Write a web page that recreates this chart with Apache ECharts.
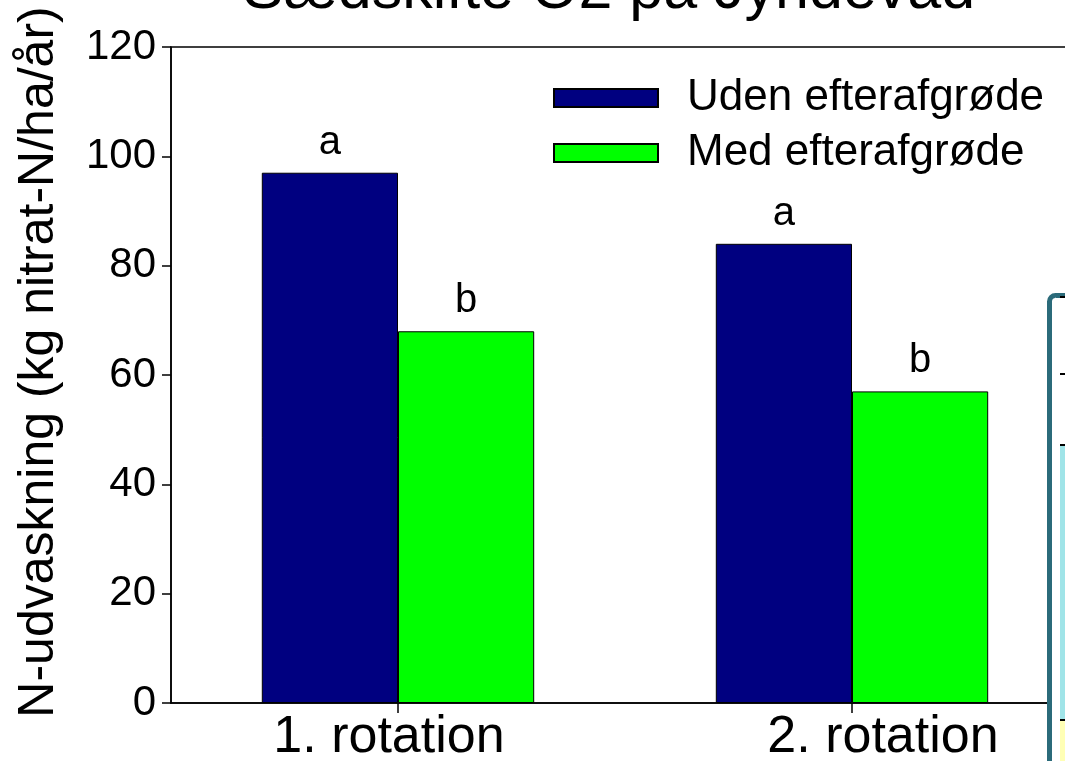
<!DOCTYPE html>
<html>
<head>
<meta charset="utf-8">
<script src="https://cdn.jsdelivr.net/npm/echarts@6/dist/echarts.min.js"></script>
<style>
html,body{margin:0;padding:0;background:#fff;}
#chart{width:1065px;height:761px;}
</style>
</head>
<body>
<div id="chart"></div>
<script>
var categories = ['1. rotation', '2. rotation'];
var seriesNames = ['Uden efterafgrøde', 'Med efterafgrøde'];
var udenValues = [97, 84];
var medValues = [68, 57];
var udenLetters = ['a', 'a'];
var medLetters = ['b', 'b'];
var yTicks = [0, 20, 40, 60, 80, 100, 120];
var titleText = 'Sædskifte O2 på Jyndevad';
var yTitle = 'N-udvaskning (kg nitrat-N/ha/år)';

var FONT = 'Liberation Sans, Arial, sans-serif';
var chart = echarts.init(document.getElementById('chart'), null, {renderer: 'canvas'});

function barLabel(letters) {
  return {
    show: true,
    position: 'top',
    distance: 10,
    fontFamily: FONT,
    fontSize: 40,
    color: '#000',
    formatter: function (p) { return letters[p.dataIndex]; }
  };
}

var xLabelStyle = {fontFamily: FONT, fontSize: 52, color: '#000'};

var option = {
  backgroundColor: '#fff',
  animation: false,
  grid: {
    left: 171, top: 47, bottom: 58, width: 908,
    outerBoundsMode: 'none', containLabel: false,
    show: true, borderColor: '#000', borderWidth: 1.5, backgroundColor: 'transparent'
  },
  legend: {
    orient: 'vertical',
    left: 553, top: 76, padding: 0,
    itemWidth: 104, itemHeight: 18,
    itemGap: 11,
    icon: 'rect',
    textStyle: {fontFamily: FONT, fontSize: 44, color: '#000', padding: [0, 0, 0, 24]},
    data: seriesNames
  },
  xAxis: {
    type: 'category',
    data: categories,
    axisLine: {lineStyle: {color: '#000', width: 1.5}},
    axisTick: {show: true, alignWithLabel: true, length: 10, lineStyle: {color: '#000', width: 1.5}},
    axisLabel: {
      fontFamily: FONT, fontSize: 52, color: '#000', margin: 9,
      formatter: function (value, index) { return '{l' + index + '|' + value + '}'; },
      rich: {
        l0: Object.assign({padding: [0, 18, 0, 0]}, xLabelStyle),
        l1: Object.assign({padding: [0, 0, 0, 62]}, xLabelStyle)
      }
    }
  },
  yAxis: {
    type: 'value',
    min: yTicks[0], max: yTicks[yTicks.length - 1], interval: yTicks[1] - yTicks[0],
    splitLine: {show: false},
    axisLine: {show: true, lineStyle: {color: '#000', width: 1.5}},
    axisTick: {show: true, length: 9, lineStyle: {color: '#000', width: 1.5}},
    axisLabel: {fontFamily: FONT, fontSize: 42, color: '#000', margin: 15}
  },
  series: [
    {
      name: seriesNames[0], type: 'bar', data: udenValues,
      barGap: '0%', barCategoryGap: '40%',
      itemStyle: {color: '#000080', borderColor: '#000', borderWidth: 1},
      label: barLabel(udenLetters)
    },
    {
      name: seriesNames[1], type: 'bar', data: medValues,
      barGap: '0%', barCategoryGap: '40%',
      itemStyle: {color: '#00FF00', borderColor: '#000', borderWidth: 1},
      label: barLabel(medLetters)
    }
  ],
  graphic: [
    {
      type: 'text', x: 609, y: -9, z: 100,
      style: {text: titleText, fontFamily: FONT, fontSize: 61, fill: '#000', align: 'center', verticalAlign: 'middle'}
    },
    {
      type: 'text', x: 39, y: 362, rotation: Math.PI / 2, z: 100,
      style: {text: yTitle, fontFamily: FONT, fontSize: 50, fill: '#000', align: 'center', verticalAlign: 'middle'}
    },
    {
      type: 'rect', z: 100,
      shape: {x: 1049.5, y: 295.5, width: 120, height: 600, r: 6},
      style: {fill: '#fff', stroke: '#2B6B7A', lineWidth: 5}
    },
    {
      type: 'rect', z: 101,
      shape: {x: 1060, y: 445, width: 20, height: 275},
      style: {fill: '#A0E4E8'}
    },
    {
      type: 'rect', z: 101,
      shape: {x: 1060, y: 721, width: 20, height: 60},
      style: {fill: '#FFFFB5'}
    },
    {type: 'line', z: 102, shape: {x1: 1060, y1: 297, x2: 1070, y2: 297}, style: {stroke: '#000', lineWidth: 2}},
    {type: 'line', z: 102, shape: {x1: 1060, y1: 374, x2: 1070, y2: 374}, style: {stroke: '#000', lineWidth: 2}},
    {type: 'line', z: 102, shape: {x1: 1060, y1: 445, x2: 1070, y2: 445}, style: {stroke: '#000', lineWidth: 2}},
    {type: 'line', z: 102, shape: {x1: 1060, y1: 720, x2: 1070, y2: 720}, style: {stroke: '#000', lineWidth: 2}}
  ]
};
chart.setOption(option);
</script>
</body>
</html>
